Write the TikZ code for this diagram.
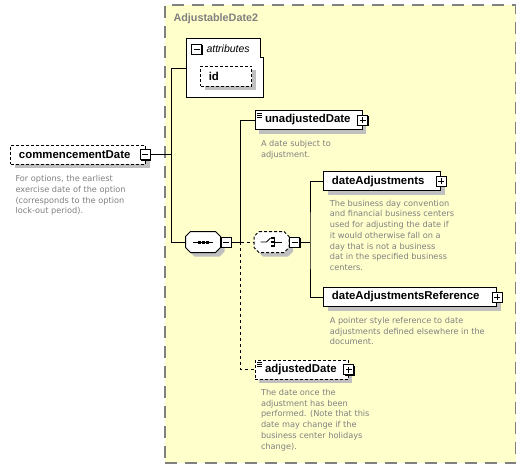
\documentclass[tikz,border=0pt]{standalone}
\usepackage{fontspec}
\setmainfont{DejaVu Sans}
\newfontfamily\labelfont{Liberation Sans}
\usetikzlibrary{positioning,shadows}

\definecolor{typeyellow}{RGB}{255,255,204}
\definecolor{bordergray}{RGB}{128,128,128}
\definecolor{descgray}{RGB}{128,128,128}
\definecolor{shadowgray}{RGB}{192,192,192}

\newcommand\chamferpath[1]{([xshift=5pt]#1.north west) -- ([xshift=-5pt]#1.north east)
  -- ([yshift=-5pt]#1.north east) -- ([yshift=5pt]#1.south east)
  -- ([xshift=-5pt]#1.south east) -- ([xshift=5pt]#1.south west)
  -- ([yshift=5pt]#1.south west) -- ([yshift=-5pt]#1.north west) -- cycle}

\begin{document}
\begin{tikzpicture}[x=1pt,y=-1pt,line width=1pt,
  ctype/.style={draw=bordergray,fill=typeyellow,dash pattern=on 12pt off 8pt,line width=1.2pt,
                minimum width=350.7pt,minimum height=458pt,inner sep=0pt},
  ctitle/.style={anchor=west,inner sep=0pt,text=bordergray,font=\labelfont\bfseries\fontsize{10.8}{13}\selectfont},
  shadowed/.style={drop shadow={shadow xshift=4pt,shadow yshift=-4pt,fill=shadowgray,opacity=1}},
  elem/.style={draw,fill=white,minimum height=19pt,inner xsep=8pt,inner ysep=0pt,align=left,
               font=\labelfont\bfseries\fontsize{11.4}{13}\selectfont,shadowed},
  optional/.style={dash pattern=on 3pt off 2pt},
  leaf/.style={path picture={
      \foreach \d in {2.5,4.5,6.5}
        \draw[solid,line width=0.7pt] ([xshift=2pt,yshift=-\d pt]path picture bounding box.north west)
          -- ++(5pt,0);}},
  pmbox/.style={draw,solid,fill=white,minimum size=10pt,inner sep=0pt,
                drop shadow={shadow xshift=1pt,shadow yshift=-1pt,fill=black,opacity=1}},
  minusbox/.style={pmbox,path picture={
      \draw[line width=1pt] ([xshift=-3pt]path picture bounding box.center)
        -- ([xshift=3pt]path picture bounding box.center);}},
  plusbox/.style={pmbox,path picture={
      \draw[line width=1pt] ([xshift=-3pt]path picture bounding box.center)
        -- ([xshift=3pt]path picture bounding box.center);
      \draw[line width=1pt] ([yshift=-3pt]path picture bounding box.center)
        -- ([yshift=3pt]path picture bounding box.center);}},
  compositor/.style={minimum width=34pt,minimum height=20pt,inner sep=0pt},
  icon/.style={line width=0.8pt},
  desc/.style={anchor=north west,inner sep=0pt,align=left,text=descgray,
               font=\fontsize{8.2}{10.7}\selectfont},
]
\useasboundingbox (0,0) rectangle (526,469);

\node[ctype] (adjdate) at (340.3,234) {};
\node[ctitle] (adjtitle) at (173,18.5) {AdjustableDate2};

\node[elem,optional,text width=118.7pt] (cdate) at (78.3,154.5) {commencementDate};
\node[minusbox] (cdminus) at ([xshift=-1pt]cdate.east) {};
\node[desc] (cdatedesc) at (15,175) {For options, the earliest\\exercise date of the option\\(corresponds to the option\\lock-out period).};

\node[minimum width=76.6pt,minimum height=58pt,inner sep=0pt] (attrs) at (225,68) {};
\draw[fill=white] (attrs.north west) -- ([xshift=-3.3pt]attrs.north east)
  -- ([xshift=-3.3pt,yshift=-19pt]attrs.north east) -- ([yshift=-19pt]attrs.north east)
  -- (attrs.south east) -- (attrs.south west) -- cycle;
\node[minusbox,drop shadow={fill=none}] (attrminus) at (196.5,49) {};
\node[anchor=west,inner sep=0pt,font=\labelfont\itshape\fontsize{10.5}{12}\selectfont]
  (attrlabel) at (206,49) {attributes};
\node[elem,optional,minimum height=20pt,text width=35pt] (idattr) at (226.3,76) {id};

% sequence
\node[compositor] (seq) at (203,242) {};
\draw[fill=white,shadowed] \chamferpath{seq};
\draw[icon] ([xshift=-10pt]seq.center) -- ([xshift=10pt]seq.center);
\foreach \d in {-4,0,4}
  \fill ([xshift=\d pt]seq.center) +(-1.5pt,-1.5pt) rectangle +(1.5pt,1.5pt);
\node[minusbox,right=0pt of seq] (seqminus) {};

\node[elem,leaf,text width=91pt] (unadj) at (308.5,120) {\hspace*{2pt}unadjustedDate};
\node[plusbox] (unadjplus) at (unadj.east) {};
\node[desc] (unadjdesc) at (260.5,140) {A date subject to\\adjustment.};

% choice
\node[compositor] (choice) at (271.5,242) {};
\draw[fill=white,shadowed,optional] \chamferpath{choice};
\draw[icon] ([xshift=-11pt]choice.center) -- ([xshift=-5pt]choice.center)
  -- ([xshift=-1pt,yshift=4pt]choice.center);
\draw[icon] ([xshift=3pt,yshift=5pt]choice.center) -- ([xshift=3pt,yshift=-5pt]choice.center);
\draw[icon] ([xshift=3pt]choice.center) -- ([xshift=10pt]choice.center);
\foreach \d in {-4,0,4}
  \fill ([xshift=1pt,yshift=\d pt]choice.center) +(-1.3pt,-1.3pt) rectangle +(1.3pt,1.3pt);
\node[minusbox,right=0pt of choice] (chminus) {};

\node[elem,text width=100.7pt] (dateadj) at (382.3,181.3) {dateAdjustments};
\node[plusbox] (dateadjplus) at (dateadj.east) {};
\node[desc] (dateadjdesc) at (329.3,199.5) {The business day convention\\and financial business centers\\used for adjusting the date if\\it would otherwise fall on a\\day that is not a business\\dat in the specified business\\centers.};

\node[elem,text width=156.7pt] (dateadjref) at (410.3,297) {dateAdjustmentsReference};
\node[plusbox] (dateadjrefplus) at (dateadjref.east) {};
\node[desc] (dateadjrefdesc) at (329.3,316.8) {A pointer style reference to date\\adjustments defined elsewhere in the\\document.};

\node[elem,leaf,optional,text width=77.3pt] (adj) at (301.7,369.7) {\hspace*{2pt}adjustedDate};
\node[plusbox] (adjplus) at (adj.east) {};
\node[desc] (adjdesc) at (260.5,388.8) {The date once the\\adjustment has been\\performed. (Note that this\\date may change if the\\business center holidays\\change).};

\coordinate (cdtrunk) at ([xshift=21pt]cdminus.east);
\coordinate (seqtrunk) at ([xshift=9pt]seqminus.east);
\coordinate (chtrunk) at ([xshift=10pt]chminus.east);

\draw (cdminus.east) -- (cdtrunk);
\draw (attrs.west) -| (cdtrunk) |- (seq.west);
\draw (seqminus.east) -- (seqtrunk) |- (unadj.west);
\draw[dashed] (seqtrunk) -- (choice.west);
\draw[dashed] (seqtrunk) |- (adj.west);
\draw (chminus.east) -- (chtrunk);
\draw (dateadj.west) -| (chtrunk) |- (dateadjref.west);
\end{tikzpicture}
\end{document}
